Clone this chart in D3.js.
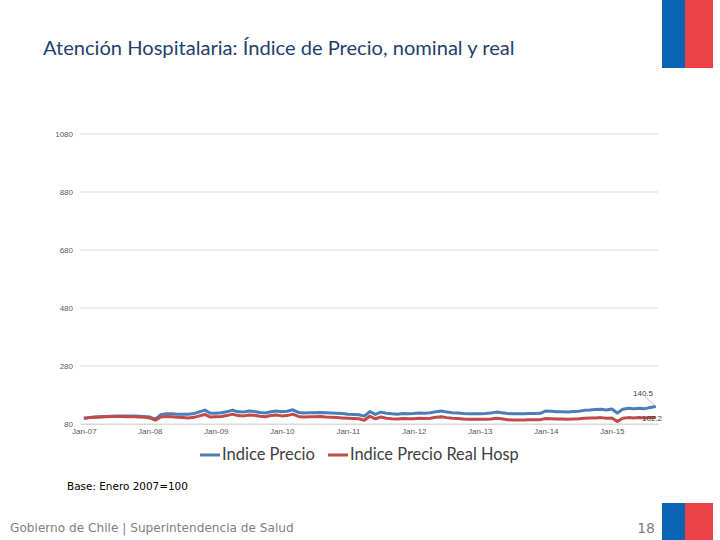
<!DOCTYPE html>
<html><head><meta charset="utf-8">
<script src="https://cdn.jsdelivr.net/npm/d3@7/dist/d3.min.js"></script>
<style>body{margin:0;background:#fff}svg{display:block}</style>
</head><body>
<svg id="c" width="720" height="540"></svg>
<script>
const tickLabels = ["Jan-07","Jan-08","Jan-09","Jan-10","Jan-11","Jan-12","Jan-13","Jan-14","Jan-15"];
const yTicks = [80, 280, 480, 680, 880, 1080];
const seriesNames = ["Indice Precio", "Indice Precio Real Hosp"];
// monthly, Jan-07 .. Sep-15
const indicePrecio = [
  100,102,104,105,106,107,108,108,108,108,107,106,
  104,97,112,115,115,114,114,114,116,122,128,117,
  117,119,122,128,122,121,125,123,120,118,122,125,
  122,124,129,120,118,119,119,120,119,118,117,116,
  114,113,112,107,123,113,121,117,115,114,116,115,
  116,118,117,119,122,125,121,119,118,116,115,115,
  115,116,118,121,119,116,115,115,115,116,116,117,
  125,124,122,122,121,123,124,127,128,130,131,128,
  132,118,131,134,133,134,133,137,140.5
];
const indiceReal = [
  100,102,103,104,105,106,106,106,105,105,104,103,
  101,93,104,106,105,103,102,101,103,108,113,104,
  105,106,109,114,109,108,111,110,107,105,109,111,
  108,109,114,106,104,105,105,106,104,103,102,101,
  100,99,98,93,107,98,104,100,98,97,99,98,
  98,100,99,100,103,105,102,100,99,97,96,96,
  96,96,97,100,98,95,94,94,94,95,95,95,
  99,98,97,97,96,97,98,100,101,101,102,100,
  101,89,100,102,101,102,101,102,102.2
];
const colors = ["#4A7EBB", "#BE4B48"];

const svg = d3.select("#c");
function fitText(sel, w){ const n=sel.node(); const l=n.getComputedTextLength(); const fs=parseFloat(sel.attr("font-size")); sel.attr("font-size", fs*w/l); }

// flags
svg.append("rect").attr("x",662).attr("y",0).attr("width",23).attr("height",68).attr("fill","#0B63B5");
svg.append("rect").attr("x",685).attr("y",0).attr("width",28).attr("height",68).attr("fill","#EC4245");
svg.append("rect").attr("x",662).attr("y",503).attr("width",23).attr("height",37).attr("fill","#0B63B5");
svg.append("rect").attr("x",685).attr("y",503).attr("width",28).attr("height",37).attr("fill","#EC4245");

// title
const t = svg.append("text").attr("x",43).attr("y",55).attr("font-family","Lato, 'Open Sans', sans-serif")
  .attr("font-size",18).attr("fill","#1F3F6E").text("Atención Hospitalaria: Índice de Precio, nominal y real");
fitText(t, 472);

const x = d3.scaleLinear().domain([-0.7, 104.4]).range([80, 658]);
const y = d3.scaleLinear().domain([80, 1080]).range([424, 134]);

// grid
svg.append("g").selectAll("line").data(yTicks).join("line")
  .attr("x1",80).attr("x2",658).attr("y1",d=>y(d)).attr("y2",d=>y(d))
  .attr("stroke","#D9D9D9").attr("stroke-width",1);
svg.append("g").selectAll("text").data(yTicks).join("text")
  .attr("x",73).attr("y",d=>y(d)+3).attr("text-anchor","end")
  .attr("font-family","'Liberation Sans', Arial, sans-serif").attr("font-size",8).attr("fill","#595959")
  .text(d=>d);

// x axis
const xAxis = d3.axisBottom(x).tickValues(tickLabels.map((d,i)=>i*12)).tickFormat((d,i)=>tickLabels[i]).tickSize(0).tickPadding(4);
const gx = svg.append("g").attr("transform","translate(0,424)").call(xAxis);
gx.select(".domain").attr("stroke","#D9D9D9");
gx.selectAll("text").attr("font-family","'Liberation Sans', Arial, sans-serif").attr("font-size",8).attr("fill","#595959");

// lines
const line = d3.line().x((d,i)=>x(i)).y(d=>y(d));
[indicePrecio, indiceReal].forEach((s,k)=>{
  svg.append("path").datum(s).attr("d",line).attr("fill","none").attr("stroke",colors[k])
    .attr("stroke-width",3).attr("stroke-linejoin","round");
});

// end labels
const lastB = indicePrecio.length-1;
svg.append("line").attr("x1",645).attr("y1",397).attr("x2",x(lastB)-1).attr("y2",y(indicePrecio[lastB])-1).attr("stroke","#A6A6A6").attr("stroke-width",0.7);
svg.append("text").attr("x",643).attr("y",396).attr("text-anchor","middle")
  .attr("font-family","'Liberation Sans', Arial, sans-serif").attr("font-size",8).attr("fill","#404040").text(indicePrecio[lastB]);
svg.append("text").attr("x",652).attr("y",421).attr("text-anchor","middle")
  .attr("font-family","'Liberation Sans', Arial, sans-serif").attr("font-size",8).attr("fill","#404040").text(indiceReal[indiceReal.length-1]);

// legend
const lg = svg.append("g");
const lx = [200, 328];
seriesNames.forEach((n,k)=>{
  lg.append("line").attr("x1",lx[k]).attr("x2",lx[k]+20).attr("y1",455).attr("y2",455).attr("stroke",colors[k]).attr("stroke-width",3);
  const tt = lg.append("text").attr("x",lx[k]+22).attr("y",460).attr("font-family","Lato, 'Open Sans', sans-serif")
    .attr("font-size",15).attr("fill","#404040").text(n);
  fitText(tt, k===0 ? 93 : 169);
});

// base note
const b = svg.append("text").attr("x",67).attr("y",490).attr("font-family","'DejaVu Sans', sans-serif")
  .attr("font-size",11).attr("fill","#000").text("Base: Enero 2007=100");
fitText(b, 121);

// footer
const f = svg.append("text").attr("x",10).attr("y",532).attr("font-family","'DejaVu Sans', sans-serif")
  .attr("font-size",13).attr("fill","#808080").text("Gobierno de Chile | Superintendencia de Salud");
fitText(f, 284);
svg.append("text").attr("x",655).attr("y",533).attr("text-anchor","end").attr("font-family","'DejaVu Sans', sans-serif")
  .attr("font-size",14).attr("fill","#808080").text("18");
</script>
</body></html>
